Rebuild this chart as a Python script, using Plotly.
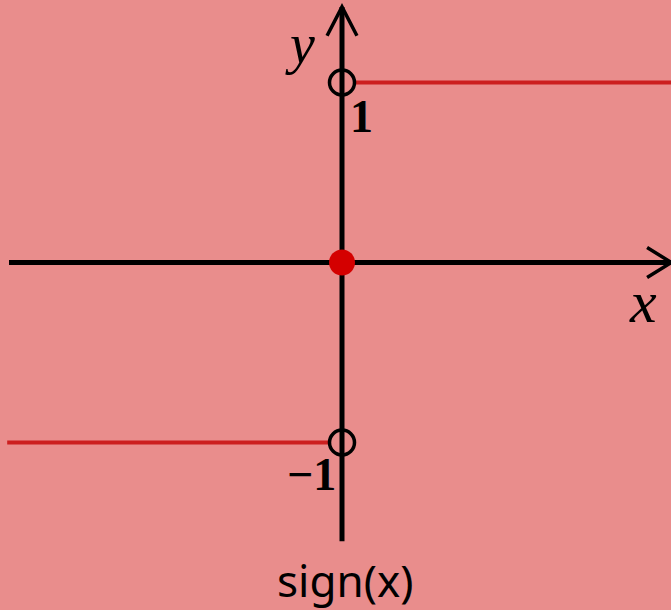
import plotly.graph_objects as go

# Step function y = sign(x)
neg_x = [-1.86, -0.067]
neg_y = [-1, -1]
pos_x = [0.072, 1.83]
pos_y = [1, 1]
open_x = [0, 0]
open_y = [1, -1]
zero_x = [0]
zero_y = [0]
tick_labels = {"1": (0.11, 0.81), "−1": (-0.17, -1.175)}
title = "sign(x)"

BG = "#E98D8C"
RED = "#CC1F1F"
DOT = "#D40000"

# Axis extents (data units)
X_MIN, X_MAX = -1.85, 1.83
Y_MIN, Y_MAX = -1.548, 1.42

fig = go.Figure()

fig.add_trace(go.Scatter(x=neg_x, y=neg_y, mode="lines",
                         line=dict(color=RED, width=4), hoverinfo="skip"))
fig.add_trace(go.Scatter(x=pos_x, y=pos_y, mode="lines",
                         line=dict(color=RED, width=4), hoverinfo="skip"))
fig.add_trace(go.Scatter(x=open_x, y=open_y, mode="markers",
                         marker=dict(symbol="circle-open", size=25,
                                     color="black", line=dict(width=3.5, color="black")),
                         hoverinfo="skip"))
fig.add_trace(go.Scatter(x=zero_x, y=zero_y, mode="markers",
                         marker=dict(symbol="circle", size=26, color=DOT,
                                     line=dict(width=0)),
                         hoverinfo="skip"))

# Coordinate axes
fig.add_shape(type="line", x0=X_MIN, x1=X_MAX, y0=0, y1=0,
              line=dict(color="black", width=5), layer="below")
fig.add_shape(type="line", x0=0, x1=0, y0=Y_MIN, y1=Y_MAX,
              line=dict(color="black", width=5), layer="below")

# Open chevron arrowheads
ax_len, ax_half = 0.135, 0.083
fig.add_shape(type="path",
              path=f"M {X_MAX - ax_len} {ax_half} L {X_MAX} 0 L {X_MAX - ax_len} {-ax_half}",
              line=dict(color="black", width=3.5), layer="below")
fig.add_shape(type="path",
              path=f"M {-ax_half} {Y_MAX - 0.16} L 0 {Y_MAX} L {ax_half} {Y_MAX - 0.16}",
              line=dict(color="black", width=3.5), layer="below")

serif = "Liberation Serif"
fig.add_annotation(x=-0.235, y=1.215, text="<i>y</i>", showarrow=False,
                   font=dict(family=serif, size=56, color="black"))
fig.add_annotation(x=1.67, y=-0.22, text="<i>x</i>", showarrow=False,
                   font=dict(family=serif, size=60, color="black"))
for txt, (tx, ty) in tick_labels.items():
    fig.add_annotation(x=tx, y=ty, text=f"<b>{txt}</b>", showarrow=False,
                       font=dict(family=serif, size=46, color="black"))

fig.add_annotation(x=0.514, y=0, xref="paper", yref="paper",
                   yanchor="bottom", text=title, showarrow=False, yshift=-2,
                   font=dict(family="Noto Sans", size=44, color="black"))

fig.update_layout(
    width=671, height=610,
    margin=dict(l=0, r=0, t=0, b=0),
    paper_bgcolor=BG, plot_bgcolor=BG,
    showlegend=False,
    xaxis=dict(range=[-342 / 180, 329 / 180], visible=False, fixedrange=True),
    yaxis=dict(range=[-347.5 / 180, 262.5 / 180], visible=False, fixedrange=True),
)

fig.write_html("out.html")
